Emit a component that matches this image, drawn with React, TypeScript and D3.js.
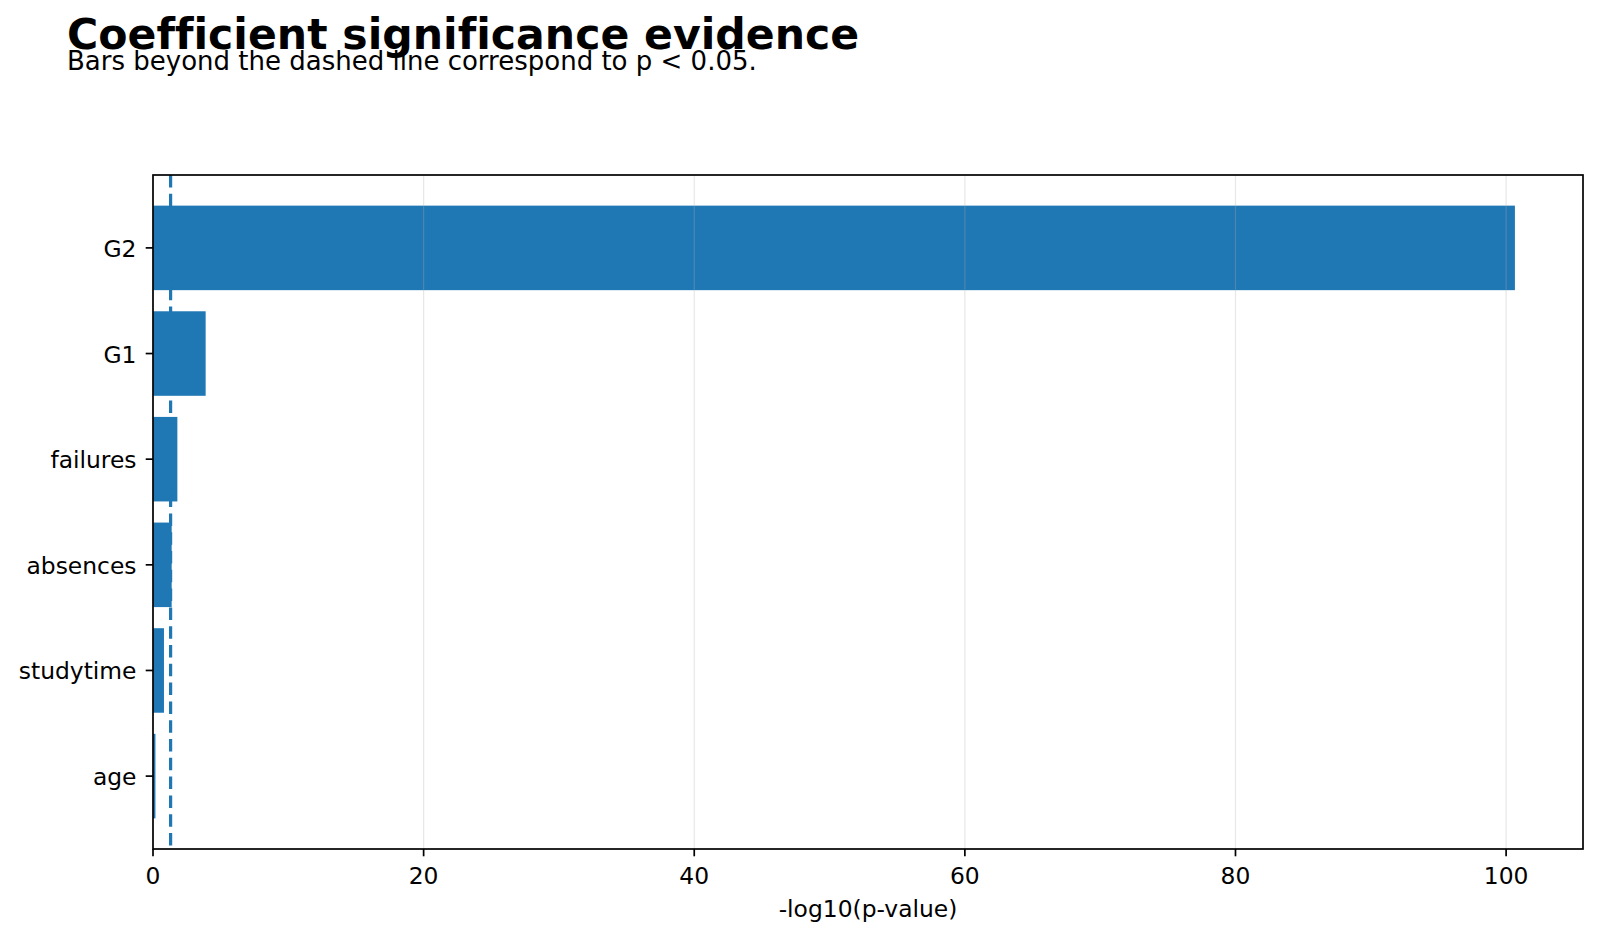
import React from "react";
import * as d3 from "d3";

const categories = ["age", "studytime", "absences", "failures", "G1", "G2"];
const values = [0.18, 0.81, 1.38, 1.8, 3.89, 100.65];
const xTicks = [0, 20, 40, 60, 80, 100];
const threshold = -Math.log10(0.05);
const titleText = "Coefficient significance evidence";
const subtitleText = "Bars beyond the dashed line correspond to p < 0.05.";
const xLabelText = "-log10(p-value)";

const W = 1600;
const H = 940;
const left = 153;
const right = 1583;
const top = 175;
const bottom = 849;
const FONT = "DejaVu Sans, sans-serif";
const BLUE = "#1f77b4";
const TICK_FS = 23.4;

export default function App() {
  const xMax = d3.max(values)! * 1.05;
  const x = d3.scaleLinear().domain([0, xMax]).range([left, right]);
  const barH = 0.8;
  const yMin = -barH / 2 - (categories.length - 1 + barH) * 0.05;
  const yMaxD = categories.length - 1 + barH / 2 + (categories.length - 1 + barH) * 0.05;
  const y = d3.scaleLinear().domain([yMin, yMaxD]).range([bottom, top]);
  const bandPx = Math.abs(y(barH) - y(0));

  return (
    <svg
      width={W}
      height={H}
      viewBox={`0 0 ${W} ${H}`}
      style={{ position: "absolute", left: 0, top: 0, background: "#fff", fontVariantLigatures: "none" }}
      fontFamily={FONT}
    >
      <rect x={0} y={0} width={W} height={H} fill="#fff" />
      <text x={67} y={49} fontSize={42.6} fontWeight="bold" fill="#000">
        {titleText}
      </text>
      <text x={67} y={69.5} fontSize={26} fill="#000">
        {subtitleText}
      </text>

      {/* bars */}
      {values.map((v, i) => (
        <rect
          key={categories[i]}
          x={x(0)}
          y={y(i + barH / 2)}
          width={x(v) - x(0)}
          height={bandPx}
          fill={BLUE}
        />
      ))}

      {/* grid */}
      {xTicks.map((t) => (
        <line
          key={"g" + t}
          x1={x(t)}
          x2={x(t)}
          y1={top}
          y2={bottom}
          stroke="#b0b0b0"
          strokeOpacity={0.3}
          strokeWidth={1.2}
        />
      ))}

      {/* threshold */}
      <line
        x1={x(threshold)}
        x2={x(threshold)}
        y1={top}
        y2={bottom}
        stroke={BLUE}
        strokeWidth={3.2}
        strokeDasharray="12.5 6.3"
      />

      {/* spines */}
      <rect
        x={left}
        y={top}
        width={right - left}
        height={bottom - top}
        fill="none"
        stroke="#000"
        strokeWidth={1.7}
      />

      {/* x ticks */}
      {xTicks.map((t) => (
        <g key={"xt" + t}>
          <line x1={x(t)} x2={x(t)} y1={bottom} y2={bottom + 7.3} stroke="#000" strokeWidth={1.7} />
          <text x={x(t)} y={884} fontSize={TICK_FS} textAnchor="middle" fill="#000">
            {t}
          </text>
        </g>
      ))}
      <text x={(left + right) / 2} y={917} fontSize={TICK_FS} textAnchor="middle" fill="#000">
        {xLabelText}
      </text>

      {/* y ticks */}
      {categories.map((c, i) => (
        <g key={"yt" + c}>
          <line x1={left - 7.3} x2={left} y1={y(i)} y2={y(i)} stroke="#000" strokeWidth={1.7} />
          <text x={left - 16.5} y={y(i) + 9} fontSize={TICK_FS} textAnchor="end" fill="#000">
            {c}
          </text>
        </g>
      ))}
    </svg>
  );
}
